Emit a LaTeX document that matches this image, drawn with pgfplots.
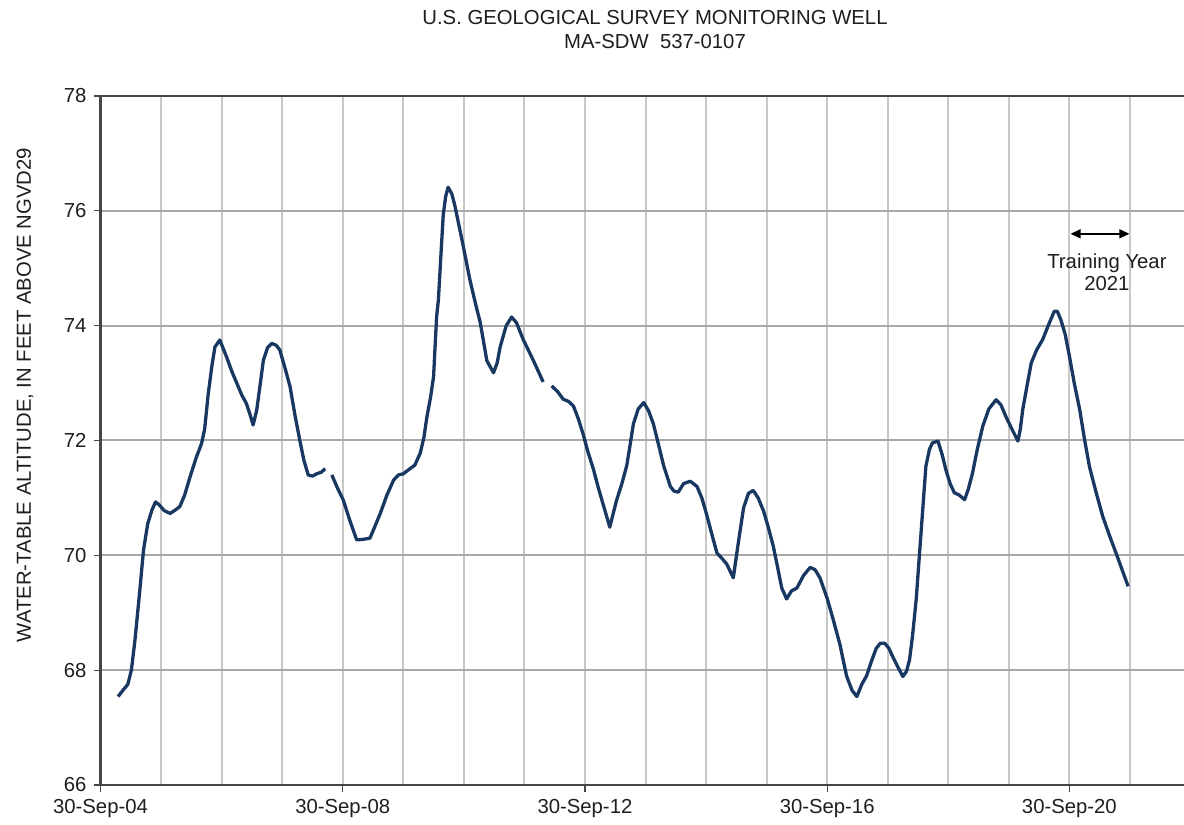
\documentclass[border=0pt]{standalone}
\usepackage{fontspec}
\setmainfont{Liberation Sans}
\usepackage{pgfplots}
\pgfplotsset{compat=1.18}
\usetikzlibrary{arrows.meta,calc}
\definecolor{navy}{RGB}{24,56,98}
\definecolor{gridv}{RGB}{200,200,200}
\definecolor{gridh}{RGB}{168,168,168}
\definecolor{axisc}{RGB}{70,70,70}
\definecolor{txt}{RGB}{30,30,30}
\pgfplotstableread{
x y
2005.04 67.54
2005.12 67.65
2005.20 67.75
2005.26 68.00
2005.32 68.53
2005.40 69.40
2005.46 70.09
2005.53 70.55
2005.60 70.79
2005.66 70.93
2005.72 70.88
2005.80 70.78
2005.90 70.73
2006.00 70.80
2006.06 70.85
2006.14 71.05
2006.23 71.37
2006.33 71.70
2006.42 71.95
2006.47 72.20
2006.53 72.82
2006.59 73.30
2006.64 73.63
2006.72 73.75
2006.83 73.46
2006.92 73.20
2007.00 73.00
2007.08 72.80
2007.16 72.64
2007.22 72.45
2007.27 72.27
2007.33 72.53
2007.39 73.00
2007.44 73.40
2007.51 73.62
2007.58 73.69
2007.65 73.66
2007.71 73.58
2007.80 73.25
2007.88 72.94
2007.96 72.45
2008.04 72.01
2008.11 71.65
2008.18 71.40
2008.25 71.38
2008.32 71.42
2008.40 71.45
2008.46 71.51
2008.52 nan
2008.57 71.40
2008.66 71.18
2008.76 70.96
2008.87 70.60
2008.98 70.27
2009.10 70.28
2009.20 70.30
2009.28 70.50
2009.37 70.73
2009.48 71.05
2009.59 71.31
2009.67 71.40
2009.75 71.42
2009.85 71.50
2009.94 71.57
2010.03 71.78
2010.09 72.05
2010.14 72.41
2010.20 72.75
2010.25 73.11
2010.30 74.15
2010.33 74.45
2010.37 75.20
2010.41 75.93
2010.45 76.25
2010.49 76.41
2010.55 76.30
2010.60 76.10
2010.72 75.49
2010.85 74.80
2010.95 74.35
2011.02 74.06
2011.13 73.39
2011.24 73.18
2011.30 73.35
2011.35 73.63
2011.45 74.00
2011.54 74.15
2011.62 74.05
2011.73 73.76
2011.90 73.39
2012.06 73.02
2012.12 nan
2012.20 72.95
2012.30 72.85
2012.39 72.72
2012.48 72.68
2012.56 72.60
2012.64 72.38
2012.72 72.11
2012.80 71.80
2012.89 71.50
2012.97 71.18
2013.05 70.89
2013.16 70.49
2013.27 70.95
2013.36 71.25
2013.44 71.56
2013.50 71.95
2013.55 72.29
2013.63 72.55
2013.72 72.66
2013.80 72.52
2013.88 72.29
2013.96 71.95
2014.05 71.56
2014.16 71.20
2014.22 71.12
2014.29 71.10
2014.38 71.25
2014.49 71.29
2014.60 71.20
2014.68 71.00
2014.76 70.71
2014.85 70.35
2014.93 70.04
2015.01 69.95
2015.09 69.85
2015.20 69.61
2015.28 70.20
2015.37 70.83
2015.45 71.08
2015.53 71.13
2015.61 71.00
2015.70 70.77
2015.78 70.48
2015.86 70.16
2015.93 69.80
2016.00 69.43
2016.08 69.24
2016.16 69.38
2016.25 69.43
2016.36 69.65
2016.47 69.79
2016.55 69.75
2016.63 69.61
2016.75 69.25
2016.85 68.88
2016.96 68.45
2017.07 67.90
2017.16 67.65
2017.24 67.54
2017.32 67.75
2017.40 67.90
2017.48 68.15
2017.56 68.38
2017.63 68.47
2017.70 68.47
2017.77 68.38
2017.83 68.24
2017.92 68.05
2018.00 67.89
2018.06 67.98
2018.11 68.18
2018.16 68.60
2018.22 69.23
2018.30 70.39
2018.38 71.55
2018.44 71.85
2018.49 71.96
2018.58 71.99
2018.65 71.75
2018.71 71.49
2018.78 71.25
2018.85 71.09
2018.93 71.05
2019.02 70.97
2019.08 71.15
2019.15 71.43
2019.23 71.85
2019.32 72.25
2019.42 72.55
2019.54 72.71
2019.62 72.62
2019.70 72.42
2019.80 72.20
2019.90 71.99
2019.94 72.20
2019.98 72.54
2020.05 72.95
2020.12 73.35
2020.21 73.58
2020.31 73.76
2020.40 74.00
2020.50 74.25
2020.55 74.25
2020.61 74.10
2020.68 73.85
2020.75 73.47
2020.83 73.00
2020.92 72.54
2021.00 72.02
2021.08 71.55
2021.19 71.10
2021.30 70.68
2021.41 70.35
2021.52 70.04
2021.62 69.75
2021.72 69.46
}\welldata
\begin{document}
\fontsize{10.15pt}{12pt}\selectfont
\begin{tikzpicture}
\begin{axis}[name=ax, scale only axis, width=545pt, height=344.5pt,
  xmin=2004.75, xmax=2022.75, ymin=66, ymax=78,
  ytick={66,68,70,72,74,76,78},
  xtick={2004.75,2008.75,2012.75,2016.75,2020.75},
  xticklabels={30-Sep-04,30-Sep-08,30-Sep-12,30-Sep-16,30-Sep-20},
  minor xtick={2005.75,2006.75,2007.75,2008.75,2009.75,2010.75,2011.75,2012.75,2013.75,2014.75,2015.75,2016.75,2017.75,2018.75,2019.75,2020.75,2021.75},
  xminorgrids=true, ymajorgrids=true, xmajorgrids=false,
  minor grid style={gridv, line width=1pt},
  major grid style={gridh, line width=1pt},
  tick align=outside, major tick length=3.5pt, minor tick length=0pt,
  tick pos=left,
  tick style={axisc, line width=0.6pt},
  axis line style={axisc, line width=1.2pt},
  ticklabel style={font=\fontsize{10.15pt}{12pt}\selectfont, text=txt},
  /pgf/number format/assume math mode=true,
  unbounded coords=jump,
  clip=false,
]
\addplot[navy, line width=1.65pt, line join=round] table[x=x,y=y] {\welldata};
\draw[{Triangle[length=5pt,width=4.5pt]}-{Triangle[length=5pt,width=4.5pt]}, black, line width=0.8pt]
  (axis cs:2020.77,75.6) -- (axis cs:2021.74,75.6);
\node[align=center, inner sep=0pt, text=txt, font=\fontsize{10.15pt}{10.8pt}\selectfont]
  at (axis cs:2021.37,74.93) {Training Year\\2021};
\end{axis}
\node[text=txt, inner sep=0pt] at ($(ax.south west)+(277.25pt,383.5pt)$) {U.S. GEOLOGICAL SURVEY MONITORING WELL};
\node[text=txt, inner sep=0pt] at ($(ax.south west)+(277.25pt,371.5pt)$) {MA-SDW\ \ 537-0107};
\node[text=txt, inner sep=0pt, rotate=90] at ($(ax.south west)+(-37.75pt,195pt)$) {WATER-TABLE ALTITUDE, IN FEET ABOVE NGVD29};
\pgfresetboundingbox
\useasboundingbox ($(ax.south west)+(-50.25pt,-20pt)$) rectangle ($(ax.south west)+(541.75pt,392.5pt)$);
\end{tikzpicture}
\end{document}
